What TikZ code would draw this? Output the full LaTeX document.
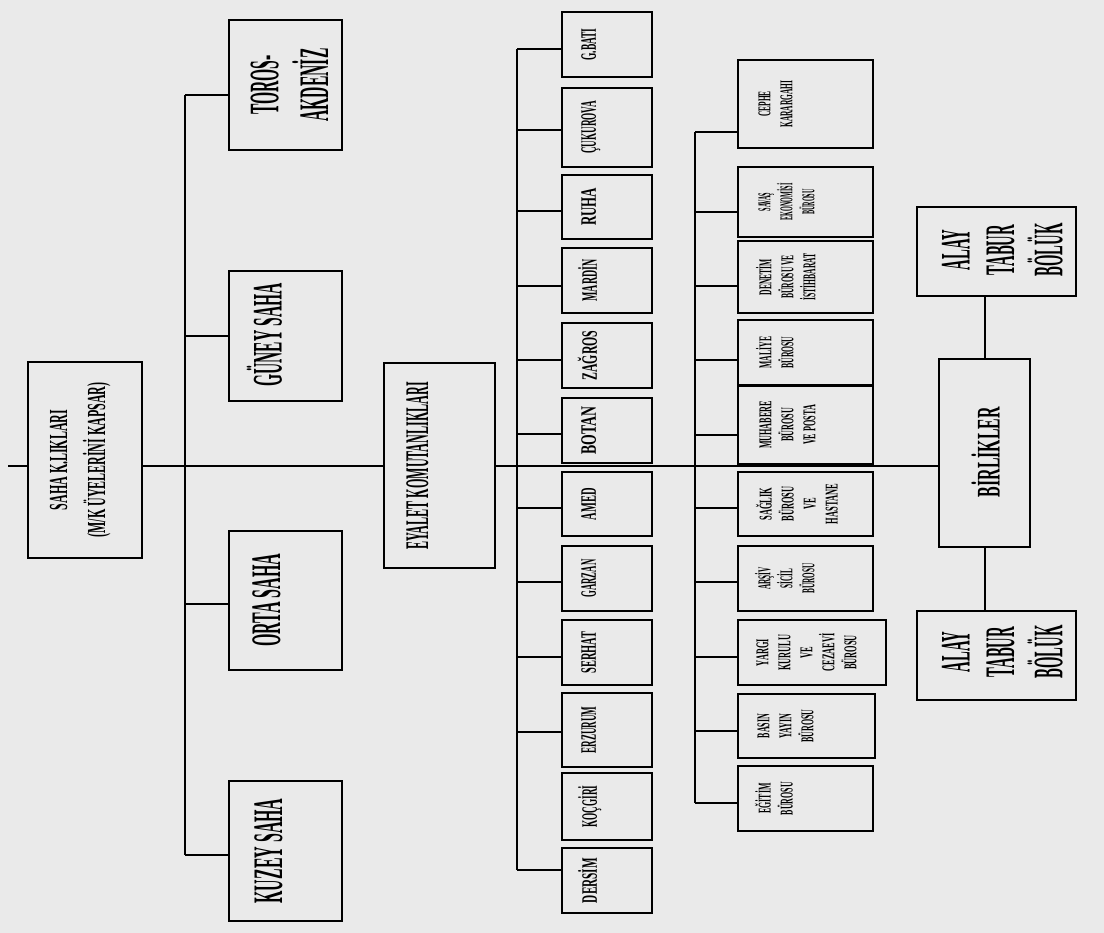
\documentclass[tikz,border=0pt]{standalone}
\usepackage{fontspec}
\setmainfont{Liberation Serif}
\usepackage{graphicx}
\definecolor{bg}{RGB}{234,234,234}
\newcommand\fitT[4]{\resizebox{#1pt}{\height}{\fontsize{#2}{#3}\selectfont\bfseries\begin{tabular}{@{}c@{}}#4\end{tabular}}}
% column 3: name, cy, h, conn y, label, len
\newcommand\colthree[6]{%
  \node[box, minimum width=90pt, minimum height=#3pt] (#1) at (607,#2) {};
  \node[txt] (#1t) at (591,#2) {\fitT{#6}{22}{24}{#5}};
  \coordinate (#1k) at (517,#4);
  \draw[conn] (#1k) -- (#1k -| #1.west);}
% column 4: name, cy, h, conn y, label, len, text x, width, cx
\newcommand\colfour[9]{%
  \node[box, minimum width=#8pt, minimum height=#3pt] (#1) at (#9,#2) {};
  \node[txt] (#1t) at (#7,#2) {\fitT{#6}{18}{22}{#5}};
  \coordinate (#1k) at (695,#4);
  \draw[conn] (#1k) -- (#1k -| #1.west);}
\begin{document}
\begin{tikzpicture}[x=1pt,y=-1pt,
  box/.style={draw=black, line width=1.5pt, inner sep=0pt},
  txt/.style={rotate=90, inner sep=0pt},
  bus/.style={line width=2.4pt, draw=black},
  conn/.style={line width=1.2pt, draw=black}]
\useasboundingbox (0,0) rectangle (1104,933);
\fill[bg] (0,0) rectangle (1104,933);

% level 1
\node[box, minimum width=114pt, minimum height=196pt] (saha) at (85,460) {};
\node[txt] (sahat) at (78.5,460) {\fitT{155}{26}{38}{SAHA K.LIKLARI\\(M/K ÜYELERİNİ KAPSAR)}};

% level 2
\node[box, minimum width=113pt, minimum height=130pt] (toros) at (285.5,85) {};
\node[txt] (torost) at (294,85) {\fitT{73}{42}{46}{TOROS-\\AKDENİZ}};
\node[box, minimum width=113pt, minimum height=130pt] (guney) at (285.5,336) {};
\node[txt] (guneyt) at (271,335) {\fitT{103}{42}{46}{GÜNEY SAHA}};
\node[box, minimum width=113pt, minimum height=139pt] (orta) at (285.5,600.5) {};
\node[txt] (ortat) at (271,600) {\fitT{93}{42}{46}{ORTA SAHA}};
\node[box, minimum width=113pt, minimum height=140pt] (kuzey) at (285.5,851) {};
\node[txt] (kuzeyt) at (273,851) {\fitT{105}{42}{46}{KUZEY SAHA}};

% eyalet
\node[box, minimum width=111pt, minimum height=205pt] (eyalet) at (439.5,465.5) {};
\node[txt] (eyalett) at (421,466) {\fitT{168}{33}{36}{EYALET KOMUTANLIKLARI}};

% birlikler
\node[box, minimum width=91pt, minimum height=188pt] (birlik) at (984.5,453) {};
\node[txt] (birlikt) at (991,452) {\fitT{90}{33}{36}{BİRLİKLER}};
\node[box, minimum width=159pt, minimum height=89pt] (alay1) at (996.5,251.5) {};
\node[txt] (alay1t) at (1007,250) {\fitT{53}{42}{44.5}{ALAY\\TABUR\\BÖLÜK}};
\node[box, minimum width=159pt, minimum height=89pt] (alay2) at (996.5,655.5) {};
\node[txt] (alay2t) at (1007,652) {\fitT{53}{42}{44.5}{ALAY\\TABUR\\BÖLÜK}};

% main line
\coordinate (m0) at (8,466);
\draw[conn] (m0) -- (m0 -| saha.west);
\draw[conn] (m0 -| saha.east) -- (m0 -| eyalet.west);
\draw[conn] (m0 -| eyalet.east) -- (m0 -| birlik.west);
\draw[conn] (985,0 |- birlik.north) -- (985,0 |- alay1.south);
\draw[conn] (985,0 |- birlik.south) -- (985,0 |- alay2.north);

% level 2 bus
\coordinate (b2t) at (185,95);
\coordinate (b2g) at (185,336);
\coordinate (b2o) at (185,604);
\coordinate (b2b) at (185,855);
\draw[bus] (b2t) -- (b2b);
\draw[conn] (b2t) -- (b2t -| toros.west);
\draw[conn] (b2g) -- (b2g -| guney.west);
\draw[conn] (b2o) -- (b2o -| orta.west);
\draw[conn] (b2b) -- (b2b -| kuzey.west);

% column 3
\coordinate (b3t) at (517,49);
\coordinate (b3b) at (517,870);
\draw[bus] (b3t) -- (b3b);
\colthree{gbati}{44.5}{65}{49}{G.BATI}{32}
\colthree{cukurova}{127.5}{79}{130}{ÇUKUROVA}{53}
\colthree{ruha}{207}{64}{211}{RUHA}{38}
\colthree{mardin}{280.5}{65}{286}{MARDİN}{42}
\colthree{zagros}{355.5}{65}{360}{ZAĞROS}{50}
\colthree{botan}{430.5}{65}{434}{BOTAN}{48}
\colthree{amed}{504}{64}{508}{AMED}{32}
\colthree{garzan}{578.5}{65}{582}{GARZAN}{38}
\colthree{serhat}{652.5}{65}{657}{SERHAT}{42}
\colthree{erzurum}{730}{74}{732}{ERZURUM}{47}
\node[box, minimum width=90pt, minimum height=67pt] (kocgiri) at (607,806.5) {};
\node[txt] (kocgirit) at (591,806.5) {\fitT{42}{22}{24}{KOÇGİRİ}};
\colthree{dersim}{880.5}{65}{870}{DERSİM}{45}

% column 4
\coordinate (b4t) at (695,132);
\coordinate (b4b) at (695,803);
\draw[bus] (b4t) -- (b4b);
\colfour{cephe}{104}{88}{132}{CEPHE\\KARARGAHI}{47}{777}{135}{805.5}
\colfour{savas}{202}{70}{212}{SAVAŞ\\EKONOMİSİ\\BÜROSU}{37}{788}{135}{805.5}
\colfour{denetim}{277}{72}{286}{DENETİM\\BÜROSU VE\\İSTİHBARAT}{47}{789}{135}{805.5}
\colfour{maliye}{352.5}{65}{360}{MALİYE\\BÜROSU}{32}{778}{135}{805.5}
\colfour{muhabere}{425}{78}{435}{MUHABERE\\BÜROSU\\VE POSTA}{48}{789}{135}{805.5}
\colfour{saglik}{504}{64}{508}{SAĞLIK\\BÜROSU\\VE\\HASTANE}{40}{800}{135}{805.5}
\colfour{arsiv}{578.5}{65}{582}{ARŞİV\\SİCİL\\BÜROSU}{30}{788}{135}{805.5}
\colfour{yargi}{652.5}{65}{657}{YARGI\\KURULU\\VE\\CEZAEVİ\\BÜROSU}{38}{808}{148}{812}
\colfour{basin}{726}{64}{731}{BASIN\\YAYIN\\BÜROSU}{33}{787}{137}{806.5}
\colfour{egitim}{798.5}{65}{803}{EĞİTİM\\BÜROSU}{33}{777}{135}{805.5}
\end{tikzpicture}
\end{document}
